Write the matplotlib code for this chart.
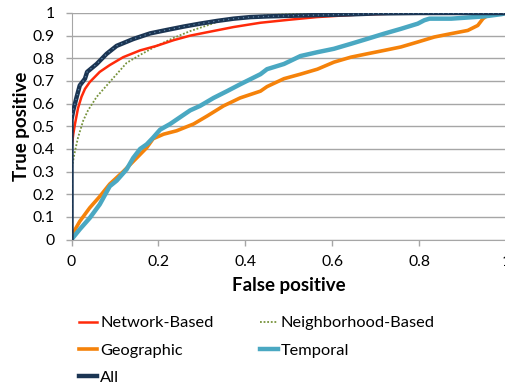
import matplotlib
matplotlib.use("Agg")
import matplotlib.pyplot as plt
from matplotlib.lines import Line2D

plt.rcParams['font.family'] = ['Lato', 'DejaVu Sans']

# ---- data ----
all_x = [0, 0, 0.004, 0.012, 0.019, 0.031, 0.036, 0.058, 0.081, 0.104, 0.142, 0.181, 0.219,
         0.258, 0.296, 0.335, 0.373, 0.412, 0.45, 0.55, 0.643, 0.70, 0.8, 0.9, 1.0]
all_y = [0, 0.53, 0.57, 0.63, 0.68, 0.71, 0.74, 0.775, 0.82, 0.855, 0.885, 0.91, 0.925,
         0.94, 0.953, 0.965, 0.975, 0.982, 0.985, 0.99, 0.994, 0.998, 1.0, 1.0, 1.0]

net_x = [0, 0, 0.004, 0.008, 0.015, 0.023, 0.031, 0.042, 0.065, 0.088, 0.119, 0.158, 0.196,
         0.235, 0.273, 0.312, 0.373, 0.412, 0.435, 0.5, 0.565, 0.65, 0.75, 1.0]
net_y = [0, 0.40, 0.465, 0.51, 0.58, 0.63, 0.665, 0.695, 0.74, 0.77, 0.805, 0.835, 0.855,
         0.88, 0.90, 0.915, 0.938, 0.95, 0.957, 0.97, 0.982, 0.992, 0.998, 1.0]

nbr_x = [0, 0, 0.002, 0.008, 0.015, 0.027, 0.038, 0.058, 0.081, 0.104, 0.127, 0.158, 0.196,
         0.235, 0.273, 0.312, 0.342, 0.388, 0.45, 0.5, 0.6, 1.0]
nbr_y = [0, 0.29, 0.33, 0.39, 0.45, 0.525, 0.57, 0.63, 0.68, 0.73, 0.78, 0.815, 0.855,
         0.89, 0.92, 0.945, 0.965, 0.98, 0.99, 0.995, 1.0, 1.0]

geo_x = [0, 0.004, 0.019, 0.042, 0.065, 0.088, 0.119, 0.15, 0.173, 0.188, 0.212, 0.242,
         0.281, 0.312, 0.35, 0.388, 0.435, 0.45, 0.489, 0.527, 0.566, 0.604, 0.643, 0.681,
         0.72, 0.758, 0.797, 0.835, 0.874, 0.912, 0.935, 0.947, 0.958, 1.0]
geo_y = [0, 0.03, 0.08, 0.14, 0.19, 0.245, 0.30, 0.36, 0.405, 0.445, 0.465, 0.48,
         0.51, 0.545, 0.59, 0.625, 0.655, 0.675, 0.71, 0.73, 0.752, 0.783, 0.805, 0.82,
         0.835, 0.85, 0.872, 0.894, 0.909, 0.923, 0.945, 0.975, 0.99, 1.0]

tmp_x = [0, 0.019, 0.042, 0.065, 0.088, 0.104, 0.127, 0.142, 0.158, 0.173, 0.188, 0.204,
         0.227, 0.25, 0.273, 0.296, 0.327, 0.358, 0.388, 0.435, 0.45, 0.489, 0.527, 0.566,
         0.604, 0.643, 0.681, 0.72, 0.758, 0.797, 0.812, 0.824, 0.874, 0.95, 0.99, 1.0]
tmp_y = [0, 0.045, 0.095, 0.155, 0.235, 0.26, 0.31, 0.36, 0.40, 0.42, 0.45, 0.485,
         0.51, 0.54, 0.57, 0.59, 0.625, 0.655, 0.685, 0.73, 0.752, 0.775, 0.81, 0.827,
         0.842, 0.864, 0.886, 0.909, 0.93, 0.953, 0.968, 0.975, 0.975, 0.985, 0.995, 1.0]

x_ticks = [0, 0.2, 0.4, 0.6, 0.8, 1]
x_tick_labels = ['0', '0.2', '0.4', '0.6', '0.8', '1']
y_ticks = [0, 0.1, 0.2, 0.3, 0.4, 0.5, 0.6, 0.7, 0.8, 0.9, 1]
y_tick_labels = ['0', '0.1', '0.2', '0.3', '0.4', '0.5', '0.6', '0.7', '0.8', '0.9', '1']

# ---- figure ----
W, H = 505, 388
fig = plt.figure(figsize=(W / 100, H / 100), dpi=100)
ax = fig.add_axes([71.5 / W, 1 - 239.5 / H, (506 - 71.5) / W, (239.5 - 13) / H])

col_net = '#FF2A0A'
col_nbr = '#77933C'
col_geo = '#F5820A'
col_tmp = '#4AA8C2'
col_all = '#1B3553'

l_geo, = ax.plot(geo_x, geo_y, color=col_geo, lw=2.6, zorder=3, solid_joinstyle='round')
l_tmp, = ax.plot(tmp_x, tmp_y, color=col_tmp, lw=3.2, zorder=3, solid_joinstyle='round')
l_nbr, = ax.plot(nbr_x, nbr_y, color=col_nbr, lw=1.3, ls=(0, (1, 1)), zorder=4)
l_net, = ax.plot(net_x, net_y, color=col_net, lw=1.8, zorder=5)
l_all, = ax.plot(all_x, all_y, color=col_all, lw=3.2, zorder=6, solid_joinstyle='round')
ax.plot(all_x, all_y, color='#5F86A8', lw=0.9, ls=(0, (1, 3)), zorder=7)

ax.set_xlim(0, 1)
ax.set_ylim(0, 1)
ax.set_xticks(x_ticks)
ax.set_xticklabels(x_tick_labels)
ax.set_yticks(y_ticks)
ax.set_yticklabels(y_tick_labels)
ax.grid(axis='y', color='#A6A6A6', lw=1.0)
ax.set_axisbelow(True)
for s in ['top', 'right']:
    ax.spines[s].set_visible(False)
ax.spines['left'].set_color('#A6A6A6')
ax.spines['bottom'].set_color('#A6A6A6')
ax.tick_params(axis='both', colors='#A6A6A6', labelcolor='black', labelsize=11.3,
               length=4, width=1, direction='out')
ax.tick_params(axis='x', pad=7)
ax.tick_params(axis='y', pad=8)

ax.set_xlabel('False positive', fontsize=13.5, fontweight='bold', labelpad=6)
ax.set_ylabel('True positive', fontsize=13.5, fontweight='bold', labelpad=2)

handles = [l_net, Line2D([], [], color=col_geo, lw=2.6), Line2D([], [], color=col_all, lw=3.2),
           l_nbr, Line2D([], [], color=col_tmp, lw=3.2)]
labels = ['Network-Based', 'Geographic', 'All', 'Neighborhood-Based', 'Temporal']
fig.legend(handles, labels, ncol=2, loc='upper left', bbox_to_anchor=(79 / W, 1 - 316 / H),
           frameon=False, fontsize=11.8, handlelength=1.1, handletextpad=0.2,
           columnspacing=2.8, labelspacing=0.78, borderaxespad=0, borderpad=0)

fig.savefig('out.png', dpi=100)
